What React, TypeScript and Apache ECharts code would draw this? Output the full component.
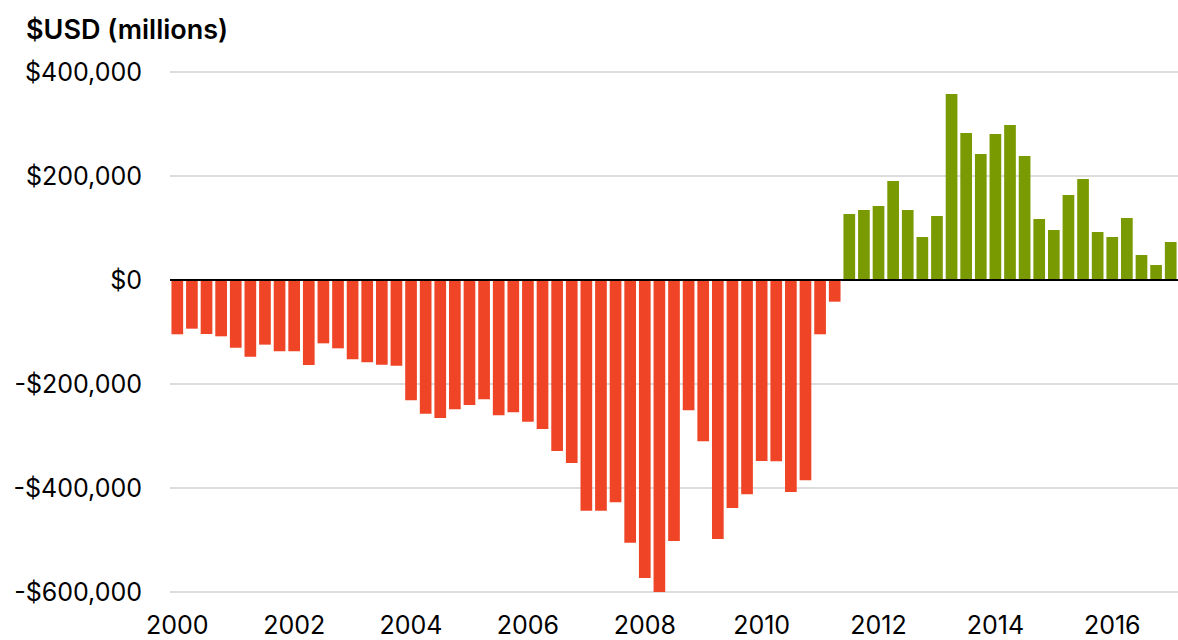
import React, { useEffect, useRef } from "react";
import * as echarts from "echarts";

const years = Array.from({ length: 18 }, (_, i) => 2000 + i);
const quarters = ["Q1", "Q2", "Q3", "Q4"];
const categories: string[] = [];
years.forEach((y) => quarters.forEach((q) => categories.push(`${y} ${q}`)));
const quarterLabels = categories.slice(0, 69); // 2000 Q1 .. 2017 Q1

const balance = [
  -104400, -93600, -103800, -108300, -130100, -147400, -124300, -137200,
  -137200, -163500, -121800, -131400, -152600, -158300, -162800, -164700,
  -231400, -257000, -265400, -248700, -240400, -229500, -260000, -254500,
  -272400, -286500, -328800, -351900, -443600, -443600, -427500, -505100,
  -573000, -605000, -501900, -250600, -310200, -498100, -438400, -412200,
  -348100, -348700, -407700, -385200, -104400, -41700,
  126900, 134600, 142300, 190400, 134600, 82700, 123100, 357700,
  282700, 242300, 280800, 298100, 238500, 117300, 96200, 163500,
  194200, 92300, 82700, 119200, 48100, 28800, 73100,
];

const yTicks = { min: -600000, max: 400000, interval: 200000 };
const titleText = "$USD (millions)";
const negColor = "#EF4426";
const posColor = "#7A9A01";

const FONT = "Inter, 'Noto Sans', sans-serif";

function fmtMoney(v: number): string {
  const s = Math.abs(v).toLocaleString("en-US");
  return (v < 0 ? "-" : "") + "$" + s;
}

export default function App() {
  const ref = useRef<HTMLDivElement>(null);
  useEffect(() => {
    if (!ref.current) return;
    const chart = echarts.init(ref.current, undefined, { renderer: "svg" });
    chart.setOption({
      animation: false,
      backgroundColor: "#ffffff",
      title: {
        text: titleText,
        left: 21,
        top: 11,
        textStyle: {
          fontFamily: FONT,
          fontSize: 27,
          fontWeight: 600,
          color: "#000",
        },
      },
      grid: { left: 170, right: 0, top: 72, bottom: 48, containLabel: false },
      xAxis: {
        type: "category",
        data: quarterLabels,
        axisLine: { show: false },
        axisTick: { show: false },
        axisLabel: {
          interval: (i: number) => i % 8 === 0,
          formatter: (v: string) => v.split(" ")[0],
          fontFamily: FONT,
          fontSize: 25,
          color: "#000",
          margin: 20,
        },
      },
      yAxis: {
        type: "value",
        min: yTicks.min,
        max: yTicks.max,
        interval: yTicks.interval,
        axisLine: { show: false },
        axisTick: { show: false },
        splitLine: { lineStyle: { color: "#dddddd", width: 2 } },
        axisLabel: {
          formatter: (v: number) => fmtMoney(v),
          fontFamily: FONT,
          fontSize: 25,
          color: "#000",
          margin: 28,
        },
      },
      series: [
        {
          type: "bar",
          barCategoryGap: "20%",
          data: balance.map((v) => ({
            value: v,
            itemStyle: { color: v < 0 ? negColor : posColor },
          })),
          markLine: {
            silent: true,
            symbol: "none",
            label: { show: false },
            lineStyle: { color: "#000", width: 2, type: "solid" },
            data: [{ yAxis: 0 }],
          },
        },
      ],
    });
    return () => chart.dispose();
  }, []);
  return (
    <div
      ref={ref}
      style={{ position: "fixed", left: 0, top: 0, width: 1178, height: 640, background: "#fff" }}
    />
  );
}
